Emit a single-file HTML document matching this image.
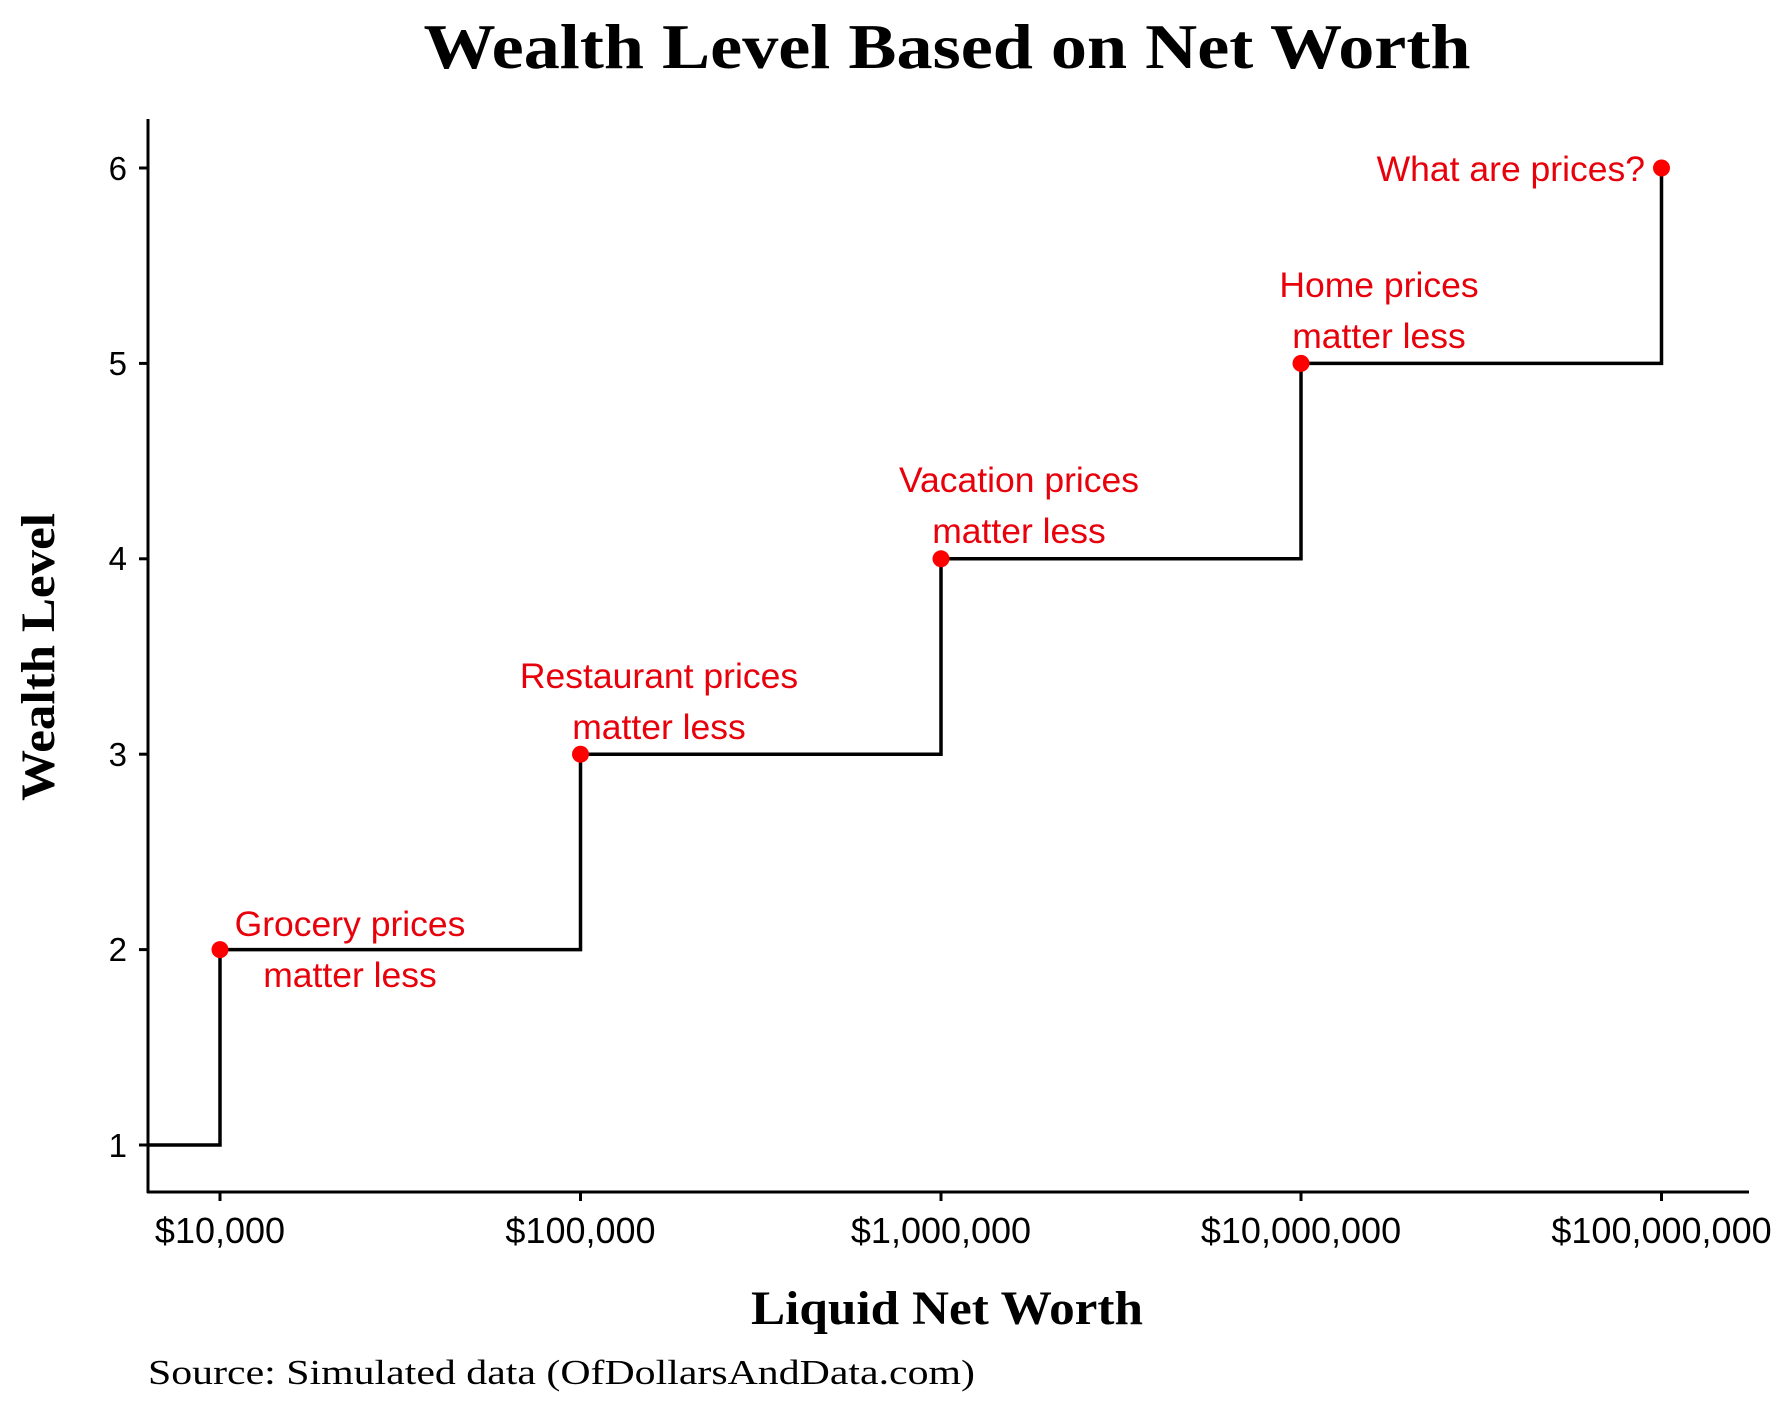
<!DOCTYPE html>
<html><head><meta charset="utf-8"><style>body{margin:0;background:#fff}</style></head>
<body>
<svg width="1771" height="1417" viewBox="0 0 1771 1417" xmlns="http://www.w3.org/2000/svg">
<rect width="1771" height="1417" fill="#fff"/>
<text x="947" y="68" text-anchor="middle" font-family="Liberation Serif, serif" font-weight="bold" font-size="64" fill="#000" textLength="1047" lengthAdjust="spacingAndGlyphs">Wealth Level Based on Net Worth</text>
<g stroke="#000" stroke-width="3" fill="none">
<line x1="148" y1="119" x2="148" y2="1193"/>
<line x1="147" y1="1192" x2="1749" y2="1192"/>
<g>
<line x1="139" y1="168" x2="148" y2="168"/><line x1="139" y1="363.4" x2="148" y2="363.4"/><line x1="139" y1="558.8" x2="148" y2="558.8"/><line x1="139" y1="754.2" x2="148" y2="754.2"/><line x1="139" y1="949.6" x2="148" y2="949.6"/><line x1="139" y1="1145" x2="148" y2="1145"/>
<line x1="220" y1="1192" x2="220" y2="1201"/><line x1="580.5" y1="1192" x2="580.5" y2="1201"/><line x1="941" y1="1192" x2="941" y2="1201"/><line x1="1301" y1="1192" x2="1301" y2="1201"/><line x1="1661.5" y1="1192" x2="1661.5" y2="1201"/>
</g>
<polyline stroke-width="3.5" points="148,1145 220,1145 220,949.6 580.5,949.6 580.5,754.2 941,754.2 941,558.8 1301,558.8 1301,363.4 1661.5,363.4 1661.5,168"/>
</g>
<g font-family="Liberation Sans, sans-serif" font-size="33" fill="#000" text-anchor="end">
<text x="127" y="180">6</text><text x="127" y="375">5</text><text x="127" y="570">4</text><text x="127" y="766">3</text><text x="127" y="961">2</text><text x="127" y="1157">1</text>
</g>
<g font-family="Liberation Sans, sans-serif" font-size="36" fill="#000" text-anchor="middle">
<text x="220" y="1243">$10,000</text><text x="580.5" y="1243">$100,000</text><text x="941" y="1243">$1,000,000</text><text x="1301" y="1243">$10,000,000</text><text x="1661.5" y="1243">$100,000,000</text>
</g>
<g fill="#f00">
<circle cx="220" cy="949.6" r="8.5"/><circle cx="580.5" cy="754.2" r="8.5"/><circle cx="941" cy="558.8" r="8.5"/><circle cx="1301" cy="363.4" r="8.5"/><circle cx="1661.5" cy="168" r="8.5"/>
</g>
<g font-family="Liberation Sans, sans-serif" font-size="35.5" fill="#e8000b" text-anchor="middle">
<text x="350" y="936">Grocery prices</text><text x="350" y="987">matter less</text>
<text x="659" y="688">Restaurant prices</text><text x="659" y="739">matter less</text>
<text x="1019" y="492">Vacation prices</text><text x="1019" y="543">matter less</text>
<text x="1379" y="297">Home prices</text><text x="1379" y="348">matter less</text>
<text x="1645" y="181" text-anchor="end">What are prices?</text>
</g>
<text x="947" y="1324" text-anchor="middle" font-family="Liberation Serif, serif" font-weight="bold" font-size="48" fill="#000" textLength="392" lengthAdjust="spacingAndGlyphs">Liquid Net Worth</text>
<text transform="translate(54,657) rotate(-90)" text-anchor="middle" font-family="Liberation Serif, serif" font-weight="bold" font-size="48" fill="#000" textLength="288" lengthAdjust="spacingAndGlyphs">Wealth Level</text>
<text x="148" y="1384" font-family="Liberation Serif, serif" font-size="35" fill="#000" textLength="827" lengthAdjust="spacingAndGlyphs">Source: Simulated data (OfDollarsAndData.com)</text>
</svg>
</body></html>
